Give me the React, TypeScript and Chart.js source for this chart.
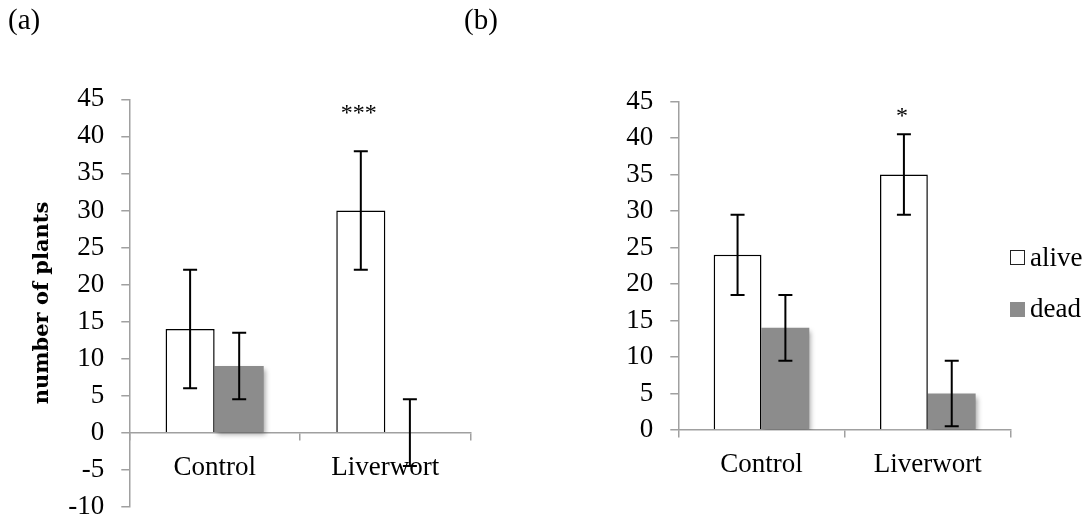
import React, { useEffect, useRef } from "react";
import { Chart, registerables } from "chart.js";

Chart.register(...registerables);

// ---------- data ----------
const categories = ["Control", "Liverwort"];
const seriesNames = ["alive", "dead"];

const aliveA = [14, 30];
const deadA = [9, 0];
const aliveErrA = [8, 8];
const deadErrA = [4.5, 4.5];
const sigA = ["", "***"];

const aliveB = [24, 35];
const deadB = [14, 5];
const aliveErrB = [5.5, 5.5];
const deadErrB = [4.5, 4.5];
const sigB = ["", "*"];

const yRangeA = [-10, 45];
const yRangeB = [0, 45];
const yStep = 5;
const yTitle = "number of plants";
const panelLabels = ["(a)", "(b)"];

// ---------- styles ----------
const AXIS = "#a0a0a0";
const GRAY = "#8c8c8c";
const SERIF = "'Liberation Serif', 'Times New Roman', serif";
const CANVAS_H = 560;

const errorBarsPlugin = {
  id: "errorBars",
  afterDatasetsDraw(chart: any, _args: any, opts: any) {
    const errs: number[][] = opts.errors || [];
    const ctx = chart.ctx;
    const yScale = chart.scales.y;
    ctx.save();
    ctx.strokeStyle = "#000";
    ctx.lineWidth = 2;
    chart.data.datasets.forEach((ds: any, i: number) => {
      const meta = chart.getDatasetMeta(i);
      meta.data.forEach((bar: any, j: number) => {
        const v = ds.data[j];
        const e = errs[i] ? errs[i][j] : 0;
        if (!e) return;
        const x = bar.x;
        const yTop = yScale.getPixelForValue(v + e);
        const yBot = yScale.getPixelForValue(v - e);
        ctx.beginPath();
        ctx.moveTo(x, yTop);
        ctx.lineTo(x, yBot);
        ctx.moveTo(x - 7, yTop);
        ctx.lineTo(x + 7, yTop);
        ctx.moveTo(x - 7, yBot);
        ctx.lineTo(x + 7, yBot);
        ctx.stroke();
      });
    });
    ctx.restore();
  },
};

const sigPlugin = {
  id: "sig",
  afterDatasetsDraw(chart: any, _args: any, opts: any) {
    const labels: string[] = opts.labels || [];
    const ctx = chart.ctx;
    const meta = chart.getDatasetMeta(0);
    ctx.save();
    ctx.fillStyle = "#000";
    ctx.font = `24px ${SERIF}`;
    ctx.textAlign = "center";
    ctx.textBaseline = "alphabetic";
    labels.forEach((t, j) => {
      if (!t) return;
      const bar: any = meta.data[j];
      ctx.fillText(t, bar.x - 2, chart.chartArea.top + 21);
    });
    ctx.restore();
  },
};

const shadowPlugin = {
  id: "barShadow",
  beforeDatasetDraw(chart: any, args: any) {
    if (args.index === 1) {
      const ctx = chart.ctx;
      ctx.save();
      ctx.shadowColor = "rgba(0,0,0,0.35)";
      ctx.shadowBlur = 5;
      ctx.shadowOffsetX = 2;
      ctx.shadowOffsetY = 3;
    }
  },
  afterDatasetDraw(chart: any, args: any) {
    if (args.index === 1) chart.ctx.restore();
  },
};

function makeConfig(
  alive: number[],
  dead: number[],
  aliveErr: number[],
  deadErr: number[],
  sig: string[],
  yRange: number[],
  axisWidth: number,
  padding: any,
  withTitle: boolean
): any {
  return {
    type: "bar",
    data: {
      labels: categories,
      datasets: [
        {
          label: seriesNames[0],
          data: alive,
          backgroundColor: "#ffffff",
          borderColor: "#000000",
          borderWidth: 1.5,
          categoryPercentage: 0.575,
          barPercentage: 1,
        },
        {
          label: seriesNames[1],
          data: dead,
          backgroundColor: GRAY,
          borderWidth: 0,
          categoryPercentage: 0.575,
          barPercentage: 1,
        },
      ],
    },
    options: {
      responsive: false,
      animation: false,
      layout: { padding },
      plugins: {
        legend: { display: false },
        tooltip: { enabled: false },
        errorBars: { errors: [aliveErr, deadErr] },
        sig: { labels: sig },
      },
      scales: {
        x: {
          position: { y: 0 },
          grid: {
            offset: true,
            drawOnChartArea: false,
            drawTicks: true,
            tickLength: 7,
            color: AXIS,
            lineWidth: 1.5,
          },
          border: { display: true, color: AXIS, width: 1.5 },
          ticks: { color: "#000", font: { family: SERIF, size: 27 }, padding: 12 },
        },
        y: {
          min: yRange[0],
          max: yRange[1],
          grid: {
            drawOnChartArea: false,
            tickLength: 8,
            color: AXIS,
            lineWidth: 1.5,
          },
          border: { display: true, color: AXIS, width: 1.5 },
          ticks: {
            stepSize: yStep,
            color: "#000",
            font: { family: SERIF, size: 27 },
            padding: 17,
          },
          title: {
            display: withTitle,
            text: yTitle,
            color: "#000",
            font: { family: "'DejaVu Serif', serif", size: 21, weight: "bold" },
            padding: { top: 30, bottom: 0 },
          },
          afterFit: (s: any) => {
            s.width = axisWidth;
          },
        },
      },
    },
    plugins: [errorBarsPlugin, sigPlugin, shadowPlugin],
  };
}

export default function App() {
  const refA = useRef<HTMLCanvasElement | null>(null);
  const refB = useRef<HTMLCanvasElement | null>(null);

  useEffect(() => {
    const a = new Chart(
      refA.current as HTMLCanvasElement,
      makeConfig(aliveA, deadA, aliveErrA, deadErrA, sigA, yRangeA, 129.3,
        { left: 0, right: 545 - 470.7, top: 99.3, bottom: CANVAS_H - 506.7 }, true)
    );
    const b = new Chart(
      refB.current as HTMLCanvasElement,
      makeConfig(aliveB, deadB, aliveErrB, deadErrB, sigB, yRangeB, 133.3,
        { left: 0, right: 545 - 466, top: 101.5, bottom: CANVAS_H - 430 }, false)
    );
    return () => {
      a.destroy();
      b.destroy();
    };
  }, []);

  const textStyle: React.CSSProperties = {
    position: "absolute",
    fontFamily: SERIF,
    fontSize: 27,
    lineHeight: "27px",
    color: "#000",
    whiteSpace: "nowrap",
  };
  const panelStyle: React.CSSProperties = { ...textStyle, fontSize: 29, lineHeight: "29px" };

  return (
    <div style={{ position: "absolute", left: 0, top: 0, width: 1090, height: 522, background: "#fff", overflow: "hidden" }}>
      <canvas ref={refA} width={545} height={CANVAS_H} style={{ position: "absolute", left: 0, top: 0, width: 545, height: CANVAS_H }} />
      <canvas ref={refB} width={545} height={CANVAS_H} style={{ position: "absolute", left: 545, top: 0, width: 545, height: CANVAS_H }} />
      <div style={{ ...panelStyle, left: 8, top: 5 }}>{panelLabels[0]}</div>
      <div style={{ ...panelStyle, left: 464, top: 5 }}>{panelLabels[1]}</div>
      <div style={{ position: "absolute", left: 1010, top: 250, width: 13, height: 13, background: "#fff", border: "1px solid #222" }} />
      <div style={{ ...textStyle, left: 1030, top: 244 }}>{seriesNames[0]}</div>
      <div style={{ position: "absolute", left: 1010, top: 302, width: 15, height: 15, background: GRAY }} />
      <div style={{ ...textStyle, left: 1030, top: 295 }}>{seriesNames[1]}</div>
    </div>
  );
}
